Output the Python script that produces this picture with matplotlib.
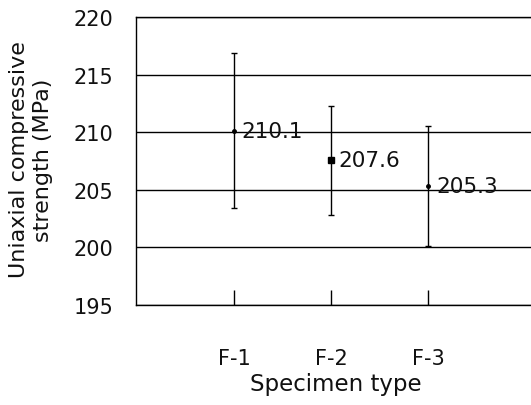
import matplotlib
matplotlib.use("Agg")
import matplotlib.pyplot as plt

categories = ["F-1", "F-2", "F-3"]
means = [210.1, 207.6, 205.3]
upper = [216.9, 212.3, 210.5]
lower = [203.4, 202.8, 200.1]
labels = ["210.1", "207.6", "205.3"]
markers = ["o", "s", "o"]
msizes = [2.5, 4.5, 2.5]
yticks = [195, 200, 205, 210, 215, 220]

plt.rcParams['font.family'] = ['DejaVu Sans']

W, H = 531, 406
fig = plt.figure(figsize=(W/100, H/100), dpi=100)
left, right, top, bottom = 136, 531, 18, 306
ax = fig.add_axes([left/W, 1 - bottom/H, (right-left)/W, (bottom-top)/H])

xs = [1, 2, 3]
for x, m, u, l, mk, ms, lab in zip(xs, means, upper, lower, markers, msizes, labels):
    ax.errorbar([x], [m], yerr=[[m - l], [u - m]], fmt=mk, color='black',
                ms=ms, ecolor='black', elinewidth=1.0, capsize=2.5, capthick=1.0, zorder=3)
    ax.text(x + 0.08, m, lab, fontsize=15.5, va='center', ha='left', color='#111111',
            zorder=4)

ax.set_xlim(-0.01, 4.06)
ax.set_ylim(195, 220)
ax.set_yticks(yticks)
ax.set_yticklabels([str(t) for t in yticks], fontsize=15, color='#111111')
ax.set_xticks(xs)
ax.set_xticklabels(categories, fontsize=15, color='#111111')
ax.tick_params(axis='x', direction='in', length=11, width=1.0, pad=31)
ax.tick_params(axis='y', length=0, pad=16.5)
ax.yaxis.grid(True, color='black', linewidth=1.0)
ax.set_axisbelow(True)
ax.spines['right'].set_visible(False)
for s in ['left', 'top', 'bottom']:
    ax.spines[s].set_linewidth(1.0)

fig.text(336/W, 1 - 385/H, "Specimen type", fontsize=16.5, ha='center', va='center',
         color='#111111')
fig.text(31/W, 1 - 160/H, "Uniaxial compressive\nstrength (MPa)", fontsize=16,
         rotation=90, ha='center', va='center', linespacing=1.2, color='#111111',
         multialignment='center')

fig.savefig("out.png", dpi=100)
